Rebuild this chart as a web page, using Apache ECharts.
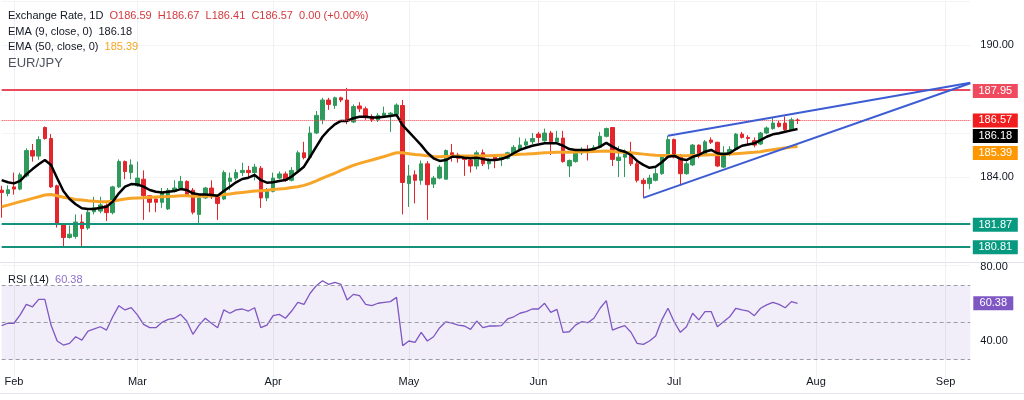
<!DOCTYPE html>
<html lang="en">
<head>
<meta charset="UTF-8">
<title>EUR/JPY</title>
<script src="https://cdn.jsdelivr.net/npm/echarts@6/dist/echarts.min.js"></script>
<style>
  html, body { margin: 0; padding: 0; background: #fff; }
  #chart { width: 1024px; height: 400px; }
</style>
</head>
<body>
<div id="chart"></div>
<script>
// daily candles, 29 Jan .. 29 Jul
var opens = [183.40,183.25,183.55,183.45,184.05,185.20,184.95,186.25,185.75,183.60,
  181.85,181.25,181.30,181.95,181.68,182.42,182.45,182.70,182.38,183.55,
  184.70,184.20,183.60,183.90,183.15,183.00,182.85,182.55,183.35,183.50,
  183.80,183.40,182.30,183.05,183.50,183.10,183.00,183.80,183.95,184.20,
  184.30,184.20,184.40,183.05,183.35,183.95,184.14,183.85,184.30,185.10,
  184.90,186.00,186.60,187.50,187.25,187.60,187.50,186.50,187.23,187.10,
  186.75,186.60,186.80,186.85,186.85,187.25,183.70,184.10,183.85,184.60,
  183.68,183.95,183.90,185.10,185.00,184.88,184.77,184.50,185.10,184.60,
  184.90,184.80,184.85,185.05,185.25,185.45,185.60,185.95,185.65,186.00,
  185.60,185.77,184.50,184.70,185.10,185.25,185.15,185.35,185.85,186.25,
  184.75,184.90,185.00,184.60,183.85,183.70,183.85,184.15,184.95,185.70,
  184.95,184.15,184.55,185.45,185.00,185.68,185.58,184.45,185.05,185.25,
  185.95,185.80,185.65,185.50,186.00,186.20,186.45,186.45,186.15,186.59];
var closes = [183.30,183.42,183.45,184.10,185.20,184.95,185.70,185.75,183.55,181.85,
  181.25,181.40,181.95,181.65,182.40,182.60,182.73,182.38,183.55,184.70,
  184.25,184.55,183.95,183.15,182.85,182.85,183.27,183.40,183.50,183.80,
  183.20,182.40,183.05,183.50,183.10,182.80,184.20,183.95,184.20,184.30,
  184.20,184.45,183.05,183.35,183.95,184.14,183.85,184.30,185.10,184.88,
  186.00,186.80,187.50,187.30,187.60,187.50,186.60,187.20,187.10,186.70,
  186.60,186.80,186.90,186.90,187.27,183.75,184.05,183.85,184.60,183.65,
  183.95,184.45,185.20,185.00,184.85,184.80,184.50,185.10,184.60,184.75,
  184.80,184.90,185.10,185.35,185.45,185.60,185.75,185.80,186.00,185.60,
  185.77,184.70,184.75,185.10,185.25,185.15,185.35,185.85,186.20,184.80,
  184.90,185.05,184.60,183.85,183.70,183.95,184.15,184.95,185.70,184.90,
  184.15,184.60,185.45,184.95,185.60,185.58,184.50,185.10,185.25,185.95,
  185.80,185.75,185.45,186.00,186.23,186.45,186.30,186.15,186.60,186.57];
var lows = [182.15,183.12,183.20,183.40,183.98,184.70,184.78,185.70,183.50,181.70,
  180.85,181.20,181.20,180.85,181.60,182.30,182.35,182.00,182.30,183.50,
  183.90,183.90,183.55,182.05,182.40,182.40,182.60,182.50,183.30,183.45,
  183.10,182.30,181.90,183.00,183.00,182.05,182.95,183.40,183.85,184.05,
  184.00,183.85,182.60,182.90,183.30,183.90,183.78,183.80,184.20,184.80,
  184.80,185.95,186.40,187.05,187.10,187.40,186.40,186.45,186.95,186.60,
  186.50,186.50,186.70,186.05,186.80,182.30,182.64,182.80,183.65,182.05,
  183.50,183.90,183.90,184.70,184.65,184.05,184.20,184.35,184.50,184.35,
  184.40,184.50,184.80,185.00,185.20,185.30,185.50,185.55,185.60,185.00,
  185.55,184.65,184.00,184.65,185.00,184.75,185.10,185.30,185.80,184.50,
  184.00,184.00,184.50,183.75,183.05,183.45,183.80,184.10,184.85,184.85,
  183.60,184.10,184.50,184.85,184.95,185.50,184.45,184.41,184.95,185.20,
  185.75,185.50,185.35,185.45,185.95,186.15,186.25,186.10,186.10,186.41];
var highs = [183.60,183.62,184.20,184.20,185.30,185.50,185.85,186.30,185.95,183.65,
  181.90,181.80,182.30,182.30,182.55,183.10,183.10,182.80,183.60,184.80,
  184.75,184.80,184.70,184.30,183.18,183.05,183.50,183.50,183.85,184.05,
  183.85,183.50,183.10,183.55,183.85,183.20,184.30,184.20,184.35,184.65,
  184.50,184.60,184.50,183.50,184.20,184.25,184.25,184.45,185.20,185.60,
  186.30,187.00,187.60,187.60,187.65,187.65,188.05,187.30,187.40,187.20,
  186.85,186.90,187.20,186.95,187.35,187.50,184.55,184.30,184.75,184.72,
  184.05,184.55,185.25,185.50,185.10,184.90,184.85,185.20,185.25,184.85,
  184.95,185.00,185.15,185.45,185.80,185.75,186.00,186.05,186.20,186.10,
  186.10,186.10,184.80,185.20,185.35,185.45,185.45,186.05,186.25,186.27,
  185.40,185.25,185.60,184.70,183.95,184.10,184.40,185.00,185.88,185.75,
  185.05,184.70,185.50,185.48,185.68,185.80,185.60,185.40,185.40,186.00,
  186.05,185.90,185.80,186.05,186.30,186.70,186.55,186.75,186.70,186.67];
var ema9 = [183.86,183.76,183.71,183.82,184.12,184.36,184.58,184.77,184.55,183.94,
  183.36,183.00,182.76,182.58,182.55,182.55,182.60,182.65,182.88,183.26,
  183.56,183.68,183.66,183.56,183.41,183.33,183.30,183.33,183.36,183.45,
  183.41,183.26,183.21,183.20,183.18,183.15,183.36,183.56,183.76,183.91,
  183.97,184.09,183.86,183.74,183.76,183.82,183.86,184.02,184.24,184.47,
  184.92,185.38,185.83,186.14,186.39,186.55,186.55,186.67,186.74,186.74,
  186.70,186.70,186.74,186.77,186.82,186.35,186.05,185.75,185.45,185.10,
  184.85,184.73,184.77,184.92,184.92,184.88,184.85,184.88,184.82,184.77,
  184.77,184.82,184.92,185.08,185.23,185.33,185.42,185.48,185.53,185.53,
  185.53,185.42,185.27,185.23,185.23,185.23,185.27,185.38,185.55,185.38,
  185.23,185.15,185.00,184.73,184.55,184.42,184.47,184.67,184.92,184.97,
  184.82,184.77,184.92,185.00,185.15,185.23,185.08,185.03,185.08,185.27,
  185.42,185.48,185.53,185.68,185.83,185.94,185.99,186.06,186.12,186.18];
var ema50 = [182.65,182.72,182.80,182.88,182.95,183.03,183.10,183.18,183.20,183.15,
  183.08,183.03,182.98,182.95,182.92,182.90,182.88,182.87,182.90,182.95,
  183.00,183.03,183.05,183.06,183.08,183.09,183.10,183.11,183.13,183.15,
  183.15,183.13,183.12,183.13,183.15,183.15,183.20,183.23,183.27,183.30,
  183.33,183.36,183.38,183.40,183.43,183.46,183.48,183.52,183.56,183.62,
  183.71,183.82,183.95,184.06,184.17,184.30,184.42,184.53,184.62,184.70,
  184.77,184.85,184.93,185.02,185.10,185.10,185.06,185.02,185.00,184.96,
  184.93,184.92,184.93,184.94,184.95,184.95,184.95,184.96,184.97,184.97,
  184.98,184.99,185.00,185.01,185.03,185.04,185.06,185.08,185.10,185.11,
  185.13,185.13,185.13,185.14,185.15,185.15,185.16,185.17,185.18,185.16,
  185.14,185.12,185.10,185.07,185.04,185.01,184.99,184.98,184.98,184.98,
  184.97,184.97,184.98,184.99,185.00,185.01,185.01,185.02,185.04,185.06,
  185.08,185.10,185.12,185.15,185.20,185.24,185.28,185.32,185.36,185.39];
var rsi = [48.3,49.6,49.6,54.1,59.8,58.5,62.5,62.5,48.6,40.0,
  37.8,38.7,42.3,40.5,45.4,46.5,47.7,45.9,53.1,59.1,
  56.8,58.0,54.1,49.0,47.2,47.2,50.1,51.7,52.3,54.4,
  50.8,43.6,48.6,52.3,49.6,47.2,56.8,55.0,56.8,57.3,
  56.2,58.0,47.2,48.6,53.7,54.4,52.3,56.2,60.9,59.8,
  65.8,69.9,72.6,70.6,71.7,70.6,62.2,65.2,64.5,59.8,
  59.1,60.4,60.9,61.3,63.6,37.5,40.0,39.3,44.7,40.0,
  42.3,47.2,50.4,49.6,48.6,48.1,46.3,50.8,47.2,48.1,
  48.1,48.3,51.9,53.1,55.0,55.9,57.3,57.3,60.4,55.5,
  57.1,44.7,45.0,48.6,50.4,49.9,52.3,57.7,61.8,45.9,
  47.2,48.3,44.7,38.7,38.2,40.0,42.7,51.4,57.7,50.4,
  44.7,47.7,55.0,51.4,55.9,55.9,47.7,50.4,53.1,57.7,
  56.8,56.2,53.7,57.7,59.5,60.9,59.8,58.0,61.3,60.38];

var resistance = [187.95];
var supports = [181.87, 180.81];
var upperTrend = [[108, 185.88], [157, 188.28]];   // [bar index, price]
var lowerTrend = [[104, 183.05], [157, 188.26]];
var rsiBands = [70, 50, 30];
var priceTicks = [190, 184];
var rsiTicks = [80, 40];

// weekday dates from 29 Jan 2026, room on the right for the projection
var dates = [];
(function () {
  var d = new Date(Date.UTC(2026, 0, 29));
  while (dates.length < 158) {
    var w = d.getUTCDay();
    if (w !== 0 && w !== 6) dates.push(d.toISOString().slice(0, 10));
    d.setUTCDate(d.getUTCDate() + 1);
  }
})();
var monthNames = ['Jan','Feb','Mar','Apr','May','Jun','Jul','Aug','Sep','Oct','Nov','Dec'];
function isMonthStart(i) {
  return i > 0 && dates[i].slice(5, 7) !== dates[i - 1].slice(5, 7);
}

var FONT = '"Liberation Sans", Arial, sans-serif';
var TXT = '#131722';
var UP = '#2f9a5c', DOWN = '#e3262c';
var last = closes.length - 1;
var edge = dates[dates.length - 1];

var candles = opens.map(function (o, i) { return [o, closes[i], lows[i], highs[i]]; });

function tag(v, color, dy, w) {
  return {
    coord: [edge, v], value: v.toFixed(2),
    symbolSize: [w || 45, 14], symbolOffset: [w ? 23 : 25, dy],
    itemStyle: { color: color }
  };
}
function trend(t) {
  return [
    { coord: [dates[t[0][0]], t[0][1]], lineStyle: { color: '#3c5cd4', width: 2, type: 'solid' } },
    { coord: [dates[t[1][0]], t[1][1]] }
  ];
}
function legendTitle(top, text, size, color, rich) {
  return {
    left: 8, top: top, padding: 0, text: text,
    textStyle: { fontSize: size, fontWeight: 'normal', color: color, fontFamily: FONT, rich: rich || {} }
  };
}

var chart = echarts.init(document.getElementById('chart'));

var option = {
  animation: false,
  backgroundColor: '#fff',
  textStyle: { fontFamily: FONT },
  title: [
    legendTitle(10, 'Exchange Rate, 1D  {r|O' + opens[last].toFixed(2) + '  H' + highs[last].toFixed(2) +
      '  L' + lows[last].toFixed(2) + '  C' + closes[last].toFixed(2) + '  0.00 (+0.00%)}', 11, TXT,
      { r: { fontSize: 11, color: '#d33a3f', fontFamily: FONT } }),
    legendTitle(26, 'EMA (9, close, 0)  ' + ema9[last].toFixed(2), 11, TXT),
    legendTitle(41, 'EMA (50, close, 0)  {o|' + ema50[last].toFixed(2) + '}', 11, TXT,
      { o: { fontSize: 11, color: '#f5a623', fontFamily: FONT } }),
    legendTitle(57, 'EUR/JPY', 13, '#50535e'),
    legendTitle(274, 'RSI (14)  {p|' + rsi[last].toFixed(2) + '}', 11, TXT,
      { p: { fontSize: 11, color: '#8e6fc9', fontFamily: FONT } })
  ],
  graphic: [
    { type: 'line', shape: { x1: 0, y1: 262.5, x2: 1024, y2: 262.5 }, style: { stroke: '#e0e3eb', lineWidth: 1 }, silent: true },
    { type: 'line', shape: { x1: 0, y1: 393.5, x2: 1024, y2: 393.5 }, style: { stroke: '#e6e8ee', lineWidth: 1 }, silent: true }
  ],
  grid: [
    { left: 1.66, right: 53.7, top: 1, height: 264 },
    { left: 1.66, right: 53.7, top: 230, height: 148 }
  ],
  xAxis: [
    {
      type: 'category', gridIndex: 0, data: dates, boundaryGap: false,
      axisLine: { show: false }, axisTick: { show: false }, axisLabel: { show: false },
      splitLine: { show: true, interval: function (i) { return isMonthStart(i); },
        lineStyle: { color: '#eef0f4', width: 1 } }
    },
    {
      type: 'category', gridIndex: 1, data: dates, boundaryGap: false, offset: -8,
      axisLine: { show: false }, axisTick: { show: false },
      axisLabel: {
        interval: function (i) { return isMonthStart(i); },
        formatter: function (v) { return monthNames[parseInt(v.slice(5, 7), 10) - 1]; },
        color: TXT, fontSize: 11, fontFamily: FONT, margin: 6
      },
      splitLine: { show: true, interval: function (i) { return isMonthStart(i); },
        lineStyle: { color: '#eef0f4', width: 1 } }
    }
  ],
  yAxis: [
    {
      type: 'value', gridIndex: 0, position: 'right', min: 180, max: 192, interval: 2,
      axisLine: { show: false }, axisTick: { show: false },
      axisLabel: {
        margin: 10, color: TXT, fontSize: 11, fontFamily: FONT,
        formatter: function (v) { return priceTicks.indexOf(v) >= 0 ? v.toFixed(2) : ''; }
      },
      splitLine: { show: true, lineStyle: { color: '#f3f4f7' } }
    },
    {
      type: 'value', gridIndex: 1, position: 'right', min: 20, max: 100, interval: 20,
      axisLine: { show: false }, axisTick: { show: false },
      axisLabel: {
        margin: 10, color: TXT, fontSize: 11, fontFamily: FONT,
        formatter: function (v) { return rsiTicks.indexOf(v) >= 0 ? v.toFixed(2) : ''; }
      },
      splitLine: { show: false }
    }
  ],
  series: [
    {
      name: 'EUR/JPY', type: 'candlestick', xAxisIndex: 0, yAxisIndex: 0,
      data: candles, barWidth: 4,
      itemStyle: { color: UP, color0: DOWN, borderColor: UP, borderColor0: DOWN, borderWidth: 1 },
      markLine: {
        silent: true, symbol: ['none', 'none'], label: { show: false },
        data: [
          { yAxis: resistance[0], lineStyle: { color: '#ea4a5d', width: 2, type: 'solid' } },
          { yAxis: closes[last], lineStyle: { color: '#f23645', width: 1, type: 'dotted' } },
          { yAxis: supports[0], lineStyle: { color: '#13917b', width: 2, type: 'solid' } },
          { yAxis: supports[1], lineStyle: { color: '#13917b', width: 2, type: 'solid' } },
          trend(upperTrend),
          trend(lowerTrend)
        ]
      }
    },
    {
      name: 'EMA50', type: 'line', xAxisIndex: 0, yAxisIndex: 0, data: ema50,
      symbol: 'none', lineStyle: { color: '#f7a528', width: 3 }, z: 3
    },
    {
      name: 'EMA9', type: 'line', xAxisIndex: 0, yAxisIndex: 0, data: ema9,
      symbol: 'none', lineStyle: { color: '#000', width: 2.5 }, z: 4, clip: false,
      markPoint: {
        symbol: 'rect',
        label: { show: true, position: 'inside', color: '#fff', fontSize: 11, fontFamily: FONT,
          formatter: function (p) { return p.value; } },
        data: [
          tag(resistance[0], '#ef4a5e', 1),
          tag(closes[last], '#f01e1e', 0),
          tag(ema9[last], '#000000', 7),
          tag(ema50[last], '#ff9800', 6.5),
          tag(supports[0], '#089981', 1),
          tag(supports[1], '#089981', 0)
        ]
      }
    },
    {
      name: 'RSI', type: 'line', xAxisIndex: 1, yAxisIndex: 1, data: rsi,
      symbol: 'none', lineStyle: { color: '#7e57c2', width: 1.3 }, clip: false,
      markArea: {
        silent: true, itemStyle: { color: 'rgba(126,87,194,0.1)' },
        data: [[{ yAxis: rsiBands[0] }, { yAxis: rsiBands[2] }]]
      },
      markLine: {
        silent: true, symbol: ['none', 'none'], label: { show: false },
        lineStyle: { color: '#9a9ca6', width: 1, type: [4, 3] },
        data: rsiBands.map(function (v) { return { yAxis: v }; })
      },
      markPoint: {
        symbol: 'rect',
        label: { show: true, position: 'inside', color: '#fff', fontSize: 11, fontFamily: FONT,
          formatter: function (p) { return p.value; } },
        data: [tag(rsi[last], '#7e57c2', 0, 40)]
      }
    }
  ]
};

chart.setOption(option);
</script>
</body>
</html>
